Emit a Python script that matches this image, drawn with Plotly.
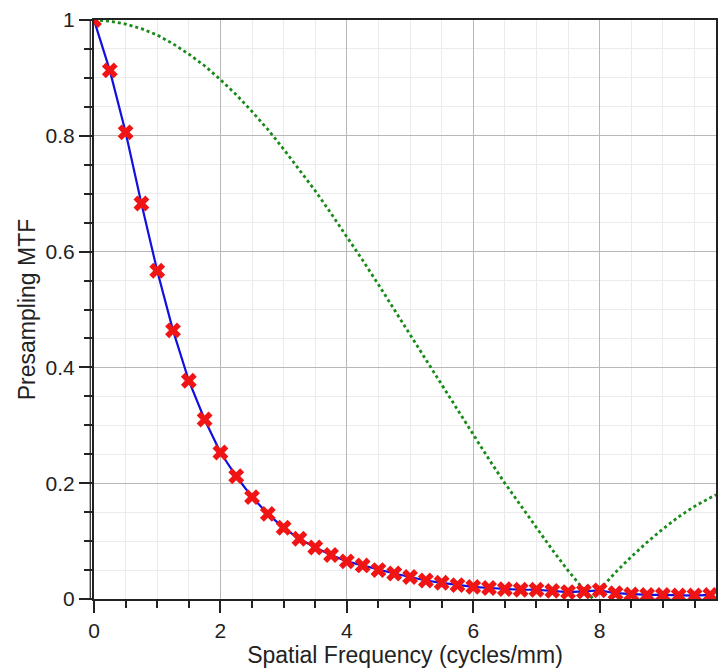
import plotly.graph_objects as go

# Measured presampling MTF (markers every 0.25 cycles/mm)
freq = [0.0, 0.25, 0.5, 0.75, 1.0, 1.25, 1.5, 1.75, 2.0, 2.25, 2.5, 2.75,
        3.0, 3.25, 3.5, 3.75, 4.0, 4.25, 4.5, 4.75, 5.0, 5.25, 5.5, 5.75,
        6.0, 6.25, 6.5, 6.75, 7.0, 7.25, 7.5, 7.75, 8.0, 8.25, 8.5, 8.75,
        9.0, 9.25, 9.5, 9.75]
mtf = [1.0, 0.913, 0.806, 0.683, 0.567, 0.464, 0.377, 0.310, 0.253, 0.212,
       0.176, 0.147, 0.123, 0.104, 0.089, 0.076, 0.065, 0.058, 0.050, 0.044,
       0.038, 0.032, 0.028, 0.024, 0.021, 0.019, 0.017, 0.016, 0.016, 0.014,
       0.012, 0.013, 0.015, 0.010, 0.008, 0.007, 0.007, 0.006, 0.006, 0.007]

# Aperture (sinc) curve, dotted green
ap_freq = [0.0, 0.25, 0.5, 0.75, 1.0, 1.25, 1.5, 1.75, 2.0, 2.25, 2.5, 2.75,
           3.0, 3.25, 3.5, 3.75, 4.0, 4.25, 4.5, 4.75, 5.0, 5.25, 5.5, 5.75,
           6.0, 6.25, 6.5, 6.75, 7.0, 7.25, 7.5, 7.75, 7.87, 8.0, 8.25, 8.5,
           8.75, 9.0, 9.25, 9.5, 9.75, 9.84]
ap_mtf = [1.0, 0.998, 0.993, 0.985, 0.974, 0.959, 0.941, 0.921, 0.897, 0.871,
          0.842, 0.811, 0.777, 0.742, 0.705, 0.666, 0.626, 0.585, 0.543, 0.500,
          0.457, 0.413, 0.369, 0.326, 0.283, 0.241, 0.200, 0.161, 0.122, 0.085,
          0.049, 0.016, 0.003, 0.016, 0.046, 0.073, 0.098, 0.121, 0.142, 0.160,
          0.175, 0.180]

x_ticks = [0, 2, 4, 6, 8]
y_ticks = [0, 0.2, 0.4, 0.6, 0.8, 1]

fig = go.Figure()
fig.add_trace(go.Scatter(x=ap_freq, y=ap_mtf, mode="lines",
                         line=dict(color="#178a17", width=2.8, dash="dot"),
                         showlegend=False))
fig.add_trace(go.Scatter(x=freq, y=mtf, mode="lines",
                         line=dict(color="#1010e0", width=2.2),
                         showlegend=False))
fig.add_trace(go.Scatter(x=freq, y=mtf, mode="markers",
                         marker=dict(symbol="x", size=14, color="#f01414",
                                     line=dict(width=0)),
                         showlegend=False))

fam = "Liberation Sans, Arial, sans-serif"
tick_font = dict(family=fam, size=21, color="#222222")
title_font = dict(family=fam, size=23, color="#222222")

fig.update_layout(
    width=726, height=669,
    margin=dict(l=94, r=8, t=15, b=70),
    paper_bgcolor="white", plot_bgcolor="white",
    font=tick_font,
    xaxis=dict(
        range=[0, 9.84], tickvals=x_ticks, ticktext=[str(v) for v in x_ticks],
        showgrid=True, gridcolor="#b8b8b8", gridwidth=1,
        ticks="outside", ticklen=12, tickwidth=1.5, tickcolor="#222222",
        showline=True, linecolor="#222222", linewidth=2, mirror=True,
        zeroline=False,
        minor=dict(dtick=0.5, tick0=0, showgrid=True, gridcolor="#ebebeb",
                   ticks="outside", ticklen=7, tickcolor="#222222"),
        title=dict(text="Spatial Frequency (cycles/mm)", font=title_font, standoff=0),
        tickfont=tick_font,
    ),
    yaxis=dict(
        range=[0, 1], tickvals=y_ticks, ticktext=["0", "0.2", "0.4", "0.6", "0.8", "1"],
        showgrid=True, gridcolor="#b8b8b8", gridwidth=1,
        ticks="outside", ticklen=13, tickwidth=1.5, tickcolor="#222222",
        showline=True, linecolor="#222222", linewidth=2, mirror=True,
        zeroline=False,
        minor=dict(dtick=0.05, tick0=0, showgrid=True, gridcolor="#ebebeb",
                   ticks="outside", ticklen=8, tickcolor="#222222"),
        title=dict(text="Presampling MTF", font=title_font, standoff=4),
        tickfont=tick_font,
    ),
)

# secondary outer line along the left axis (double-line look)
fig.add_shape(type="line", xref="paper", yref="paper", x0=-0.006, x1=-0.006,
              y0=0, y1=1, line=dict(color="#222222", width=1.2))

fig.write_html("out.html")
